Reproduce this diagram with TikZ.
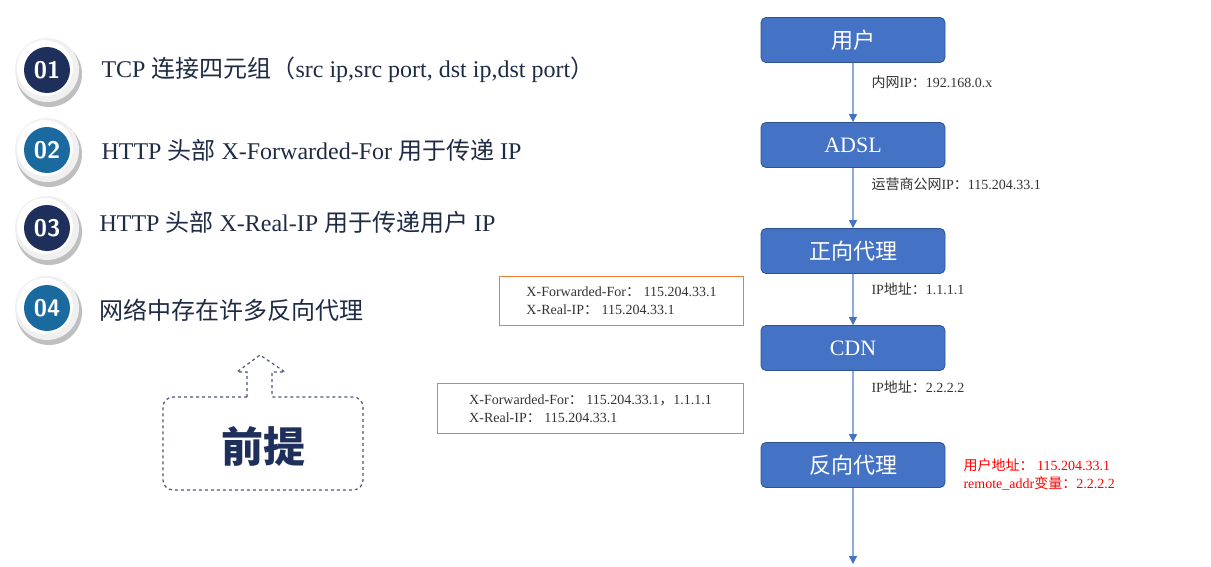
\documentclass[tikz,border=0pt]{standalone}
\usepackage{fontspec}
\setmainfont{Liberation Serif}
\newfontfamily\cjk{Noto Sans CJK SC}
\usetikzlibrary{arrows.meta}
\definecolor{boxblue}{HTML}{4472C4}
\definecolor{boxedge}{HTML}{2F528F}
\definecolor{linkblue}{HTML}{8FAADC}
\definecolor{navy}{HTML}{1F2F5C}
\definecolor{teal}{HTML}{1A6AA0}
\definecolor{orng}{HTML}{ED7D31}
\definecolor{txt}{HTML}{1F2A44}
\tikzset{
 flowbox/.style={draw=boxedge,fill=boxblue,rounded corners=5pt,minimum width=184pt,minimum height=45pt,text=white,font=\fontsize{22}{24}\selectfont,line width=0.8pt},
 link/.style={draw=linkblue,line width=1.2pt,-{Triangle[length=8pt,width=8pt,color=boxblue]}},
 lbl/.style={anchor=west,font=\fontsize{14}{16}\selectfont,text=black!80},
 hdrbox/.style={draw=orng,line width=1pt,anchor=north west,align=left,font=\fontsize{14}{18}\selectfont,inner sep=8pt,text=black!80},
 item/.style={anchor=west,font=\fontsize{24}{26}\selectfont,text=txt},
 numtxt/.style={font=\bfseries\sffamily\fontsize{24}{24}\selectfont,text=white}
}
\begin{document}
\begin{tikzpicture}[x=1pt,y=-1pt]
\useasboundingbox (0,0) rectangle (1211,567);
% left list
\foreach \yy/\n/\c in {70/01/navy,150/02/teal,228/03/navy,308/04/teal}{
  \fill[black!25] (49,\yy+4) circle (33);
  \fill[black!6] (47,\yy) circle (32);
  \fill[white] (45,\yy-2) circle (28);
  \fill[\c] (47,\yy) circle (23);
  \node[numtxt] (n\n) at (47,\yy) {\n};
}
\node[item] (i1) at (98,70) {TCP {\cjk 连接四元组（}src ip,src port, dst ip,dst port{\cjk ）}};
\node[item] (i2) at (98,150) {HTTP {\cjk 头部} X-Forwarded-For {\cjk 用于传递} IP};
\node[item] (i3) at (96,222) {HTTP {\cjk 头部} X-Real-IP {\cjk 用于传递用户} IP};
\node[item] (i4) at (96,310) {\cjk 网络中存在许多反向代理};
% premise
\draw[navy!80,dashed,line width=1.2pt,rounded corners=10pt]
 (247,397) -- (163,397) -- (163,490) -- (363,490) -- (363,397) -- (272,397);
\draw[navy!80,dashed,line width=1.2pt]
 (247,397) -- (247,372) -- (237,372) -- (260,355) -- (285,372) -- (272,372) -- (272,397);
\node[font=\cjk\bfseries\fontsize{42}{44}\selectfont,text=navy] (pre) at (263,446) {前提};
% flow
\node[flowbox] (u) at (853,40) {\cjk 用户};
\node[flowbox] (a) at (853,145) {ADSL};
\node[flowbox] (f) at (853,251) {\cjk 正向代理};
\node[flowbox] (c) at (853,348) {CDN};
\node[flowbox] (r) at (853,465) {\cjk 反向代理};
\coordinate (end) at (853,564);
\draw[link] (u) -- (a);
\draw[link] (a) -- (f);
\draw[link] (f) -- (c);
\draw[link] (c) -- (r);
\draw[link] (r) -- (end);
\node[lbl] (l1) at (868,82) {{\cjk 内网}IP{\cjk ：}192.168.0.x};
\node[lbl] (l2) at (868,184) {{\cjk 运营商公网}IP{\cjk ：}115.204.33.1};
\node[lbl] (l3) at (868,289) {IP{\cjk 地址：}1.1.1.1};
\node[lbl] (l4) at (868,387) {IP{\cjk 地址：}2.2.2.2};
\node[lbl,text=red,align=left,font=\fontsize{14}{18}\selectfont] (red) at (960,474) {{\cjk 用户地址：} 115.204.33.1\\remote\_addr{\cjk 变量：}2.2.2.2};
\node[hdrbox,minimum width=244pt,minimum height=49pt] (h1) at (499,276) {X-Forwarded-For{\cjk ：} 115.204.33.1\\X-Real-IP{\cjk ：} 115.204.33.1};
\node[hdrbox,minimum width=306pt,minimum height=50pt] (h2) at (437,383) {X-Forwarded-For{\cjk ：} 115.204.33.1{\cjk ，}1.1.1.1\\X-Real-IP{\cjk ：} 115.204.33.1};
\end{tikzpicture}
\end{document}
